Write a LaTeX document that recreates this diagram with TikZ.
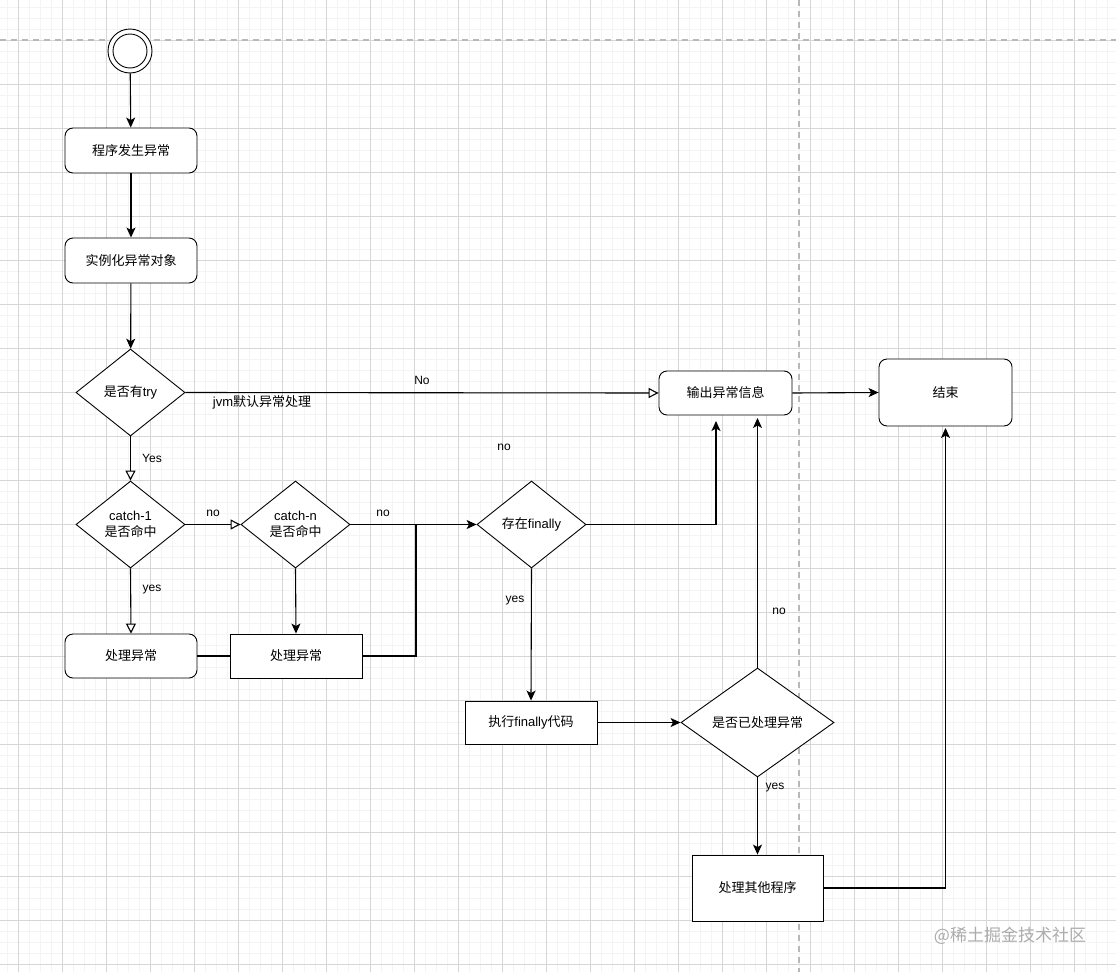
\documentclass[tikz,border=0pt]{standalone}
\usepackage{fontspec}
\setmainfont{Liberation Sans}
\newfontfamily\cjk{Noto Sans CJK SC}
\usetikzlibrary{shapes.geometric,arrows.meta,calc}
\definecolor{gmajor}{HTML}{D6D6D6}
\definecolor{gminor}{HTML}{F4F4F4}
\definecolor{gdash}{HTML}{B8B8B8}
\begin{document}
\begin{tikzpicture}[x=1pt,y=-1pt,
  base/.style={draw=black,line width=0.9pt,fill=white,inner sep=0pt,align=center,
    font=\fontsize{13}{16}\selectfont},
  rbox/.style={base,rectangle,rounded corners=8pt},
  sbox/.style={base,rectangle},
  dec/.style={base,diamond,aspect=1.25},
  lbl/.style={inner sep=0pt,font=\fontsize{12}{14}\selectfont},
  conn/.style={line width=1.1pt,-{Stealth[length=10pt,width=9pt,inset=2.5pt]}},
  oconn/.style={line width=1.1pt,-{Triangle[open,fill=white,length=10pt,width=10pt]}},
  plain/.style={line width=1.1pt},
]
\useasboundingbox (0,0) rectangle (1116,972);
\fill[white] (0,0) rectangle (1116,972);
% minor grid
\foreach \x in {7,18,...,1116} \draw[gminor,line width=0.6pt] (\x,0) -- (\x,972);
\foreach \y in {7,18,...,972} \draw[gminor,line width=0.6pt] (0,\y) -- (1116,\y);
% major grid
\foreach \x in {18,62,...,1116} \draw[gmajor,line width=0.8pt] (\x,0) -- (\x,972);
\foreach \y in {40,84,...,972} \draw[gmajor,line width=0.8pt] (0,\y) -- (1116,\y);
% page break lines
\draw[gdash,line width=1.2pt,dash pattern=on 6pt off 5pt] (0,40) -- (1116,40);
\draw[gdash,line width=1.2pt,dash pattern=on 6pt off 5pt] (799,0) -- (799,972);

% start
\node[circle,draw,line width=0.9pt,fill=white,minimum size=44pt,inner sep=0pt] (start) at (130,51) {};
\node[circle,draw,line width=0.9pt,minimum size=34pt,inner sep=0pt] (starti) at (130,51) {};

% nodes
\node[rbox,minimum width=132pt,minimum height=45pt] (n1) at (131,150.5) {\cjk 程序发生异常};
\node[rbox,minimum width=132pt,minimum height=45pt] (n2) at (131,260.5) {\cjk 实例化异常对象};
\node[dec,minimum width=109pt,minimum height=87pt] (d1) at (130.5,392.5) {{\cjk 是否有}try};
\node[dec,minimum width=109pt,minimum height=87pt] (c1) at (130.5,524.5) {catch-1\\{\cjk 是否命中}};
\node[dec,minimum width=109pt,minimum height=87pt] (cn) at (295.5,524.5) {catch-n\\{\cjk 是否命中}};
\node[rbox,minimum width=132pt,minimum height=44pt] (h1) at (131,656) {\cjk 处理异常};
\node[sbox,minimum width=132pt,minimum height=44pt] (h2) at (296,656) {\cjk 处理异常};
\node[dec,minimum width=109pt,minimum height=87pt] (df) at (531.5,524.5) {{\cjk 存在}finally};
\node[rbox,minimum width=133pt,minimum height=44pt] (out) at (725.5,393) {\cjk 输出异常信息};
\node[rbox,minimum width=133pt,minimum height=67pt] (end) at (945.5,392.5) {\cjk 结束};
\node[sbox,minimum width=132pt,minimum height=43pt] (fin) at (531,722.5) {{\cjk 执行}finally{\cjk 代码}};
\node[dec,minimum width=153pt,minimum height=109pt] (dh) at (757.5,722.5) {\cjk 是否已处理异常};
\node[sbox,minimum width=131pt,minimum height=66pt] (other) at (757.5,888) {\cjk 处理其他程序};

% helper coordinates
\coordinate (j) at (416,524.5);
\coordinate (upA) at (716,421);
\coordinate (upB) at (757.5,418);
\coordinate (upC) at (945.5,428);

% connectors
\draw[conn] (start) -- (n1);
\draw[conn] (n1) -- (n2);
\draw[conn] (n2) -- (d1);
\draw[oconn] (d1.east) -- (out.west);
\draw[oconn] (d1.south) -- (c1.north);
\draw[oconn] (c1.east) -- (cn.west);
\draw[oconn] (c1.south) -- (h1.north);
\draw[conn] (cn.south) -- (h2.north);
\draw[plain] (h1.east) -- (h2.west);
\draw[plain] (h2.east) -| (j);
\draw[conn] (cn.east) -- (df.west);
\draw[conn] (df.east) -| (upA);
\draw[conn] (df.south) -- (fin.north);
\draw[conn] (fin.east) -- (dh.west);
\draw[conn] (dh.north) -- (upB);
\draw[conn] (dh.south) -- (other.north);
\draw[conn] (out.east) -- (end.west);
\draw[conn] (other.east) -| (upC);

% labels
\node[lbl] (lNo) at (422,380) {No};
\node[lbl,font=\fontsize{13}{15}\selectfont] (lJvm) at (262,402) {jvm{\cjk 默认异常处理}};
\node[lbl] (lYes) at (152,458) {Yes};
\node[lbl] (lno1) at (213,513) {no};
\node[lbl] (lno2) at (383,513) {no};
\node[lbl] (lyes1) at (152,590) {yes};
\node[lbl] (lno3) at (504,447) {no};
\node[lbl] (lyes2) at (515,601) {yes};
\node[lbl] (lno4) at (779,611) {no};
\node[lbl] (lyes3) at (775,788) {yes};

% watermark
\node[inner sep=0pt,text=gray!65,font=\cjk\fontsize{17}{20}\selectfont] (wm) at (1010,936) {@稀土掘金技术社区};
\end{tikzpicture}
\end{document}
